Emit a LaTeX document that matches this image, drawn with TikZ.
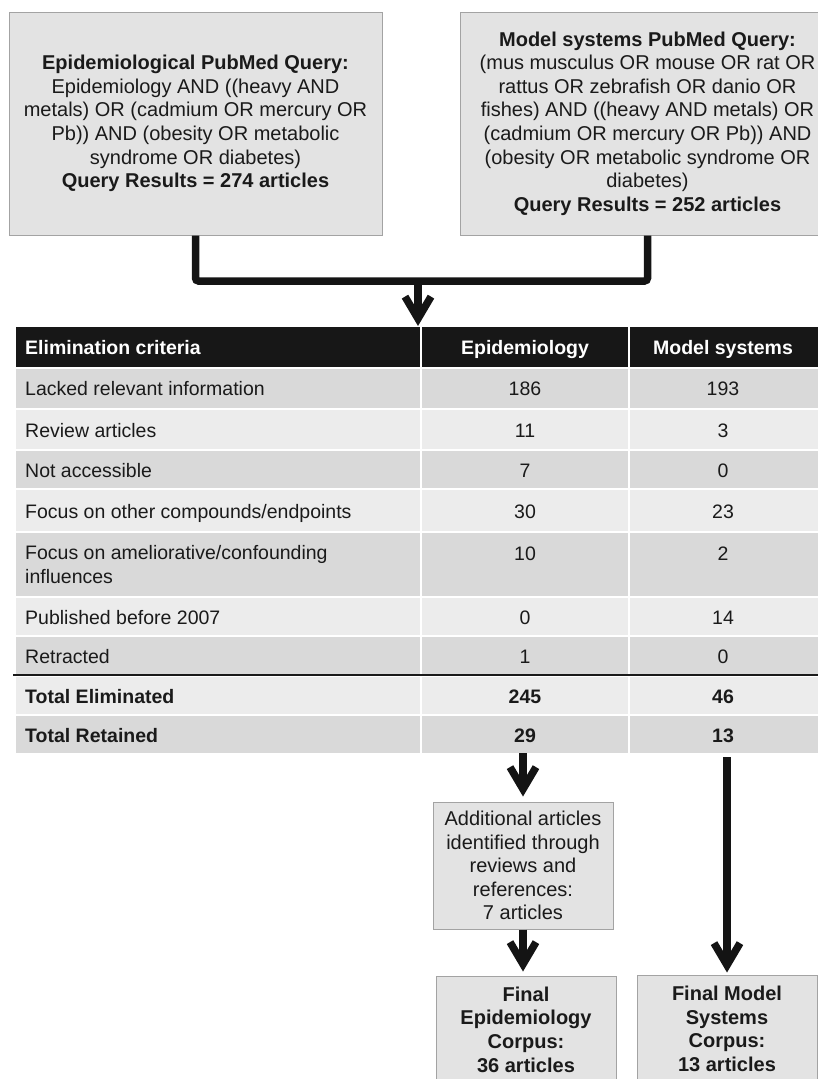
\documentclass[tikz,border=0pt]{standalone}
\usepackage{fontspec}
\setmainfont{Liberation Sans}
\usetikzlibrary{arrows.meta,shadows}
\definecolor{boxfill}{HTML}{E3E3E3}
\definecolor{boxdraw}{HTML}{A3A3A3}
\definecolor{rowdark}{HTML}{D9D9D9}
\definecolor{rowlight}{HTML}{ECECEC}
\definecolor{hdr}{HTML}{171717}
\definecolor{ink}{HTML}{1A1A1A}
\definecolor{conncol}{HTML}{141414}
\begin{document}
\begin{tikzpicture}[x=1pt,y=-1pt,
  qbox/.style={draw=boxdraw, fill=boxfill, line width=1pt, inner sep=0pt, align=center,
    text=ink, font=\fontsize{20}{23.6}\selectfont,
    drop shadow={shadow xshift=1.2pt, shadow yshift=-1.2pt, opacity=0.18, fill=black}},
  cell/.style={inner sep=0pt, anchor=north west, draw=none},
  lbl/.style={inner sep=0pt, anchor=base west, text=ink, font=\fontsize{19.5}{24}\selectfont, align=left},
  num/.style={inner sep=0pt, anchor=base, text=ink, font=\fontsize{19.5}{24}\selectfont},
  hlbl/.style={inner sep=0pt, text=white, font=\fontsize{19.5}{24}\selectfont\bfseries},
  conn/.style={draw=conncol, line width=7.5pt},
  tipped/.style={-{Straight Barb[length=22pt,width=26pt]}}
]
\useasboundingbox (0,0) rectangle (817,1079);

% query boxes
\node[qbox, minimum width=373pt, minimum height=223pt] (epi) at (195.5,123.5)
 {\textbf{Epidemiological PubMed Query:}\\
  Epidemiology AND ((heavy AND\\
  metals) OR (cadmium OR mercury OR\\
  Pb)) AND (obesity OR metabolic\\
  syndrome OR diabetes)\\
  \textbf{Query Results = 274 articles}};
\node[qbox, minimum width=375pt, minimum height=223pt] (mod) at (647.5,123.5)
 {\textbf{Model systems PubMed Query:}\\
  (mus musculus OR mouse OR rat OR\\
  rattus OR zebrafish OR danio OR\\
  fishes) AND ((heavy AND metals) OR\\
  (cadmium OR mercury OR Pb)) AND\\
  (obesity OR metabolic syndrome OR\\
  diabetes)\\
  \textbf{Query Results = 252 articles}};

% table cells
\foreach \n/\y/\h/\c in {h/327/40/hdr, r1/369/39/rowdark, r2/410/39/rowlight, r3/451/37/rowdark,
  r4/490/41/rowlight, r5/533/63/rowdark, r6/598/37/rowlight, r7/637/37/rowdark,
  te/677/37/rowlight, tr/716/37/rowdark}{
  \node[cell, fill=\c, minimum width=404pt, minimum height=\h pt] (\n-a) at (16,\y) {};
  \node[cell, fill=\c, minimum width=206pt, minimum height=\h pt] (\n-b) at (422,\y) {};
  \node[cell, fill=\c, minimum width=200pt, minimum height=\h pt] (\n-c) at (630,\y) {};
}
\draw[line width=1.5pt, draw=ink] (13,675) coordinate (rl) -- (rl -| tr-c.east);

% header
\node[hlbl, anchor=base west] (ht1) at (25,354) {Elimination criteria};
\node[hlbl, anchor=base] (ht2) at (525,354) {Epidemiology};
\node[hlbl, anchor=base] (ht3) at (723,354) {Model systems};

% rows
\node[lbl] (l1) at (25,395) {Lacked relevant information};
\node[num] (e1) at (525,395) {186};
\node[num] (m1) at (723,395) {193};
\node[lbl] (l2) at (25,437) {Review articles};
\node[num] (e2) at (525,437) {11};
\node[num] (m2) at (723,437) {3};
\node[lbl] (l3) at (25,477) {Not accessible};
\node[num] (e3) at (525,477) {7};
\node[num] (m3) at (723,477) {0};
\node[lbl] (l4) at (25,518) {Focus on other compounds/endpoints};
\node[num] (e4) at (525,518) {30};
\node[num] (m4) at (723,518) {23};
\node[lbl, anchor=north west] (l5) at (25,545) {Focus on ameliorative/confounding\\influences};
\node[num] (e5) at (525,560) {10};
\node[num] (m5) at (723,560) {2};
\node[lbl] (l6) at (25,624) {Published before 2007};
\node[num] (e6) at (525,624) {0};
\node[num] (m6) at (723,624) {14};
\node[lbl] (l7) at (25,663) {Retracted};
\node[num] (e7) at (525,663) {1};
\node[num] (m7) at (723,663) {0};
\node[lbl, font=\fontsize{19.5}{24}\selectfont\bfseries] (l8) at (25,703) {Total Eliminated};
\node[num, font=\fontsize{19.5}{24}\selectfont\bfseries] (e8) at (525,703) {245};
\node[num, font=\fontsize{19.5}{24}\selectfont\bfseries] (m8) at (723,703) {46};
\node[lbl, font=\fontsize{19.5}{24}\selectfont\bfseries] (l9) at (25,742) {Total Retained};
\node[num, font=\fontsize{19.5}{24}\selectfont\bfseries] (e9) at (525,742) {29};
\node[num, font=\fontsize{19.5}{24}\selectfont\bfseries] (m9) at (723,742) {13};

% bottom boxes
\node[qbox, minimum width=180pt, minimum height=127pt] (add) at (523,865.5)
 {Additional articles\\identified through\\reviews and\\references:\\7 articles};
\node[qbox, minimum width=180pt, minimum height=107pt, font=\fontsize{20}{23.6}\selectfont\bfseries] (fe) at (526,1029.5)
 {Final\\Epidemiology\\Corpus:\\36 articles};
\node[qbox, minimum width=180pt, minimum height=108pt, font=\fontsize{20}{23.6}\selectfont\bfseries] (fm) at (727,1029)
 {Final Model\\Systems\\Corpus:\\13 articles};

% connectors
\coordinate (j) at (418,281);
\draw[conn, rounded corners=3pt] (epi.south) |- (j) -| (mod.south);
\draw[conn, tipped, shorten >=1pt] (j) -- (j |- h-a.north);
\draw[conn, tipped, shorten >=5pt] (add.north |- tr-b.south) -- (add.north);
\draw[conn, tipped, shorten >=4pt] (add.south) -- (add.south |- fe.north);
\draw[conn, tipped, shorten <=4pt, shorten >=2pt] (fm.north |- tr-c.south) -- (fm.north);
\end{tikzpicture}
\end{document}
